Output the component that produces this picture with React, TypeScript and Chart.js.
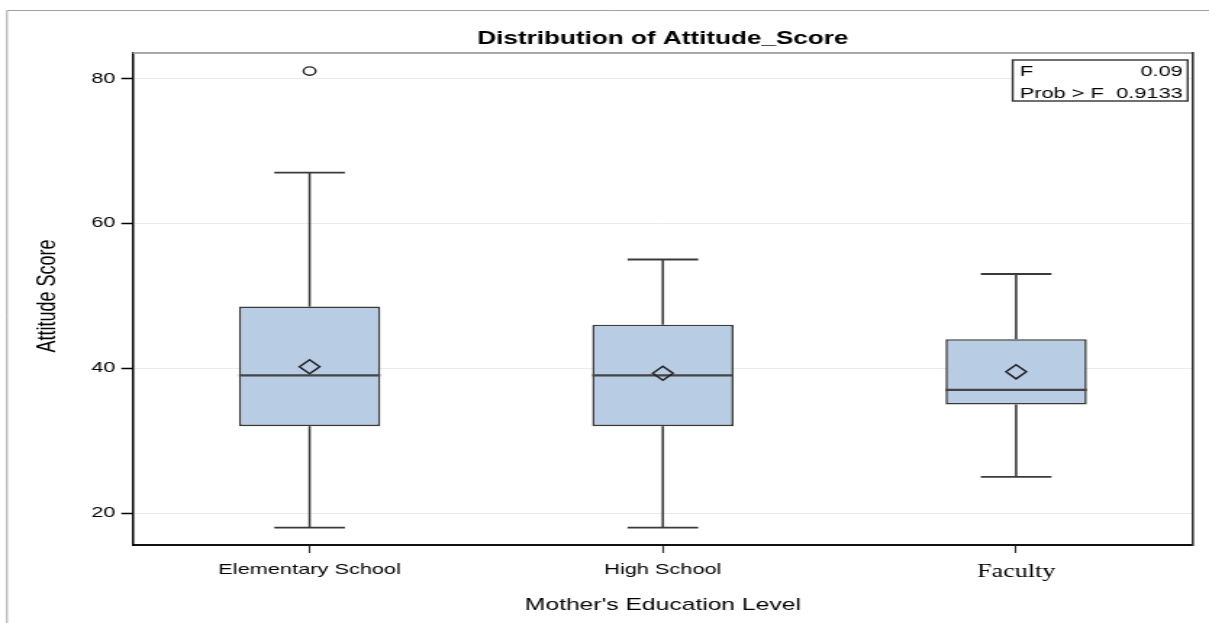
import { useEffect, useRef } from 'react';
import { Chart, registerables } from 'chart.js';

Chart.register(...registerables);

// ---- data ----
const CATEGORIES = ['Elementary School', 'High School', 'Faculty'];
const WHISKER_MIN = [18, 18, 25];
const Q1 = [32, 32, 35];
const MEDIAN = [39, 39, 37];
const Q3 = [48.5, 46, 44];
const WHISKER_MAX = [67, 55, 53];
const MEAN = [40.2, 39.3, 39.5];
const OUTLIERS: (number | null)[] = [81, null, null];
const Y_TICKS = [20, 40, 60, 80];
const Y_MIN = 15.6;
const Y_MAX = 83.5;
const STAT_LABELS = ['F', 'Prob > F'];
const STAT_VALUES = ['0.09', '0.9133'];
const TITLE = 'Distribution of Attitude_Score';
const X_TITLE = "Mother's Education Level";
const Y_TITLE = 'Attitude Score';

// canvas is drawn at a logical width and stretched horizontally like the reference
const OUT_W = 1209;
const OUT_H = 623;
const LOG_W = 834;

const SANS = '"Liberation Sans", Arial, sans-serif';
const SERIF = '"Liberation Serif", "Times New Roman", serif';

const decorPlugin = {
  id: 'decor',
  afterDatasetDraw(chart: any, args: any) {
    if (args.index !== 0) return;
    const ctx = chart.ctx;
    const y = chart.scales.y;
    const meta = chart.getDatasetMeta(0);
    ctx.save();
    ctx.strokeStyle = '#3a3a3a';
    const line = (x1: number, y1: number, x2: number, y2: number) => {
      ctx.beginPath();
      ctx.moveTo(x1, y1);
      ctx.lineTo(x2, y2);
      ctx.stroke();
    };
    meta.data.forEach((bar: any, i: number) => {
      const cx = bar.x;
      const w = bar.width;
      const yMax = y.getPixelForValue(WHISKER_MAX[i]);
      const yMin = y.getPixelForValue(WHISKER_MIN[i]);
      const yQ3 = y.getPixelForValue(Q3[i]);
      const yQ1 = y.getPixelForValue(Q1[i]);
      const yMed = y.getPixelForValue(MEDIAN[i]);
      ctx.lineWidth = 1.6;
      line(cx, yQ3, cx, yMax);
      line(cx, yQ1, cx, yMin);
      ctx.lineWidth = 1.8;
      line(cx - w / 4, yMax, cx + w / 4, yMax);
      line(cx - w / 4, yMin, cx + w / 4, yMin);
      ctx.strokeStyle = '#454545';
      ctx.lineWidth = 2.3;
      line(cx - w / 2, yMed, cx + w / 2, yMed);
      ctx.strokeStyle = '#3a3a3a';
    });
    ctx.restore();
  },
  afterDraw(chart: any) {
    const ctx = chart.ctx;
    const a = chart.chartArea;
    ctx.save();
    // outer frame
    ctx.strokeStyle = '#a0a0a0';
    ctx.lineWidth = 1;
    ctx.beginPath();
    ctx.moveTo(4.8, OUT_H);
    ctx.lineTo(4.8, 10.5);
    ctx.lineTo(LOG_W, 10.5);
    ctx.stroke();
    // plot frame top & right
    ctx.strokeStyle = '#a8a8a8';
    ctx.lineWidth = 2;
    ctx.beginPath();
    ctx.moveTo(a.left, a.top);
    ctx.lineTo(a.right, a.top);
    ctx.stroke();
    ctx.strokeStyle = '#333';
    ctx.lineWidth = 1.6;
    ctx.beginPath();
    ctx.moveTo(a.right, a.top - 1);
    ctx.lineTo(a.right, a.bottom + 1);
    ctx.stroke();

    // title
    const cx = (a.left + a.right) / 2;
    ctx.fillStyle = '#000';
    ctx.textAlign = 'center';
    ctx.textBaseline = 'alphabetic';
    ctx.font = `bold 18px ${SANS}`;
    ctx.fillText(TITLE, cx, 44);
    // x title
    ctx.font = `17px ${SANS}`;
    ctx.fillText(X_TITLE, cx, 610);
    // y title
    ctx.save();
    ctx.translate(33.5, 296);
    ctx.rotate(-Math.PI / 2);
    ctx.textBaseline = 'middle';
    ctx.font = `18px ${SANS}`;
    ctx.fillText(Y_TITLE, 0, 0);
    ctx.restore();

    // inset statistics box
    const bx1 = a.right - 124.2;
    const bx2 = a.right - 3.5;
    const by1 = a.top + 7;
    const by2 = a.top + 48;
    ctx.fillStyle = '#fff';
    ctx.fillRect(bx1, by1, bx2 - bx1, by2 - by1);
    ctx.strokeStyle = '#333';
    ctx.lineWidth = 1.4;
    ctx.strokeRect(bx1, by1, bx2 - bx1, by2 - by1);
    ctx.fillStyle = '#000';
    ctx.font = `15px ${SANS}`;
    STAT_LABELS.forEach((lab, i) => {
      const by = by1 + 15.5 + i * 22;
      ctx.textAlign = 'left';
      ctx.fillText(lab, bx1 + 4.8, by);
      ctx.textAlign = 'right';
      ctx.fillText(STAT_VALUES[i], bx2 - 3.4, by);
    });
    ctx.restore();
  },
};

export default function App() {
  const ref = useRef<HTMLCanvasElement | null>(null);

  useEffect(() => {
    if (!ref.current) return;
    const chart = new Chart(ref.current, {
      type: 'bar',
      data: {
        labels: CATEGORIES,
        datasets: [
          {
            type: 'bar',
            data: Q1.map((q, i) => [q, Q3[i]]) as any,
            backgroundColor: '#b8cce4',
            borderColor: '#3a3a3a',
            borderWidth: 1.6,
            borderSkipped: false,
            barPercentage: 0.4,
            categoryPercentage: 1,
            order: 3,
          } as any,
          {
            type: 'line',
            data: MEAN,
            showLine: false,
            pointStyle: 'rectRot',
            pointRadius: 7,
            pointBorderWidth: 1.5,
            pointBorderColor: '#222',
            pointBackgroundColor: 'rgba(0,0,0,0)',
            order: 2,
          } as any,
          {
            type: 'line',
            data: OUTLIERS,
            showLine: false,
            pointStyle: 'circle',
            pointRadius: 4.2,
            pointBorderWidth: 1.4,
            pointBorderColor: '#222',
            pointBackgroundColor: 'rgba(0,0,0,0)',
            order: 1,
          } as any,
        ],
      },
      options: {
        responsive: false,
        animation: false,
        devicePixelRatio: 1,
        layout: { padding: { left: 0, top: 53, right: 11.2, bottom: 0 } },
        plugins: {
          legend: { display: false },
          tooltip: { enabled: false },
          title: { display: false },
        },
        scales: {
          x: {
            type: 'category',
            offset: true,
            grid: {
              display: true,
              drawOnChartArea: false,
              offset: false,
              tickLength: 8,
              tickColor: '#333',
              tickWidth: 1.2,
            },
            border: { display: true, color: '#111', width: 2 },
            ticks: {
              autoSkip: false,
              maxRotation: 0,
              padding: 8,
              color: '#000',
              font: (c: any) =>
                c.index === 2
                  ? { family: SERIF, size: 18 }
                  : { family: SANS, size: 15 },
            },
            afterFit: (s: any) => {
              s.height = 78;
            },
          },
          y: {
            type: 'linear',
            min: Y_MIN,
            max: Y_MAX,
            grid: {
              color: '#ebebeb',
              lineWidth: 1,
              tickColor: '#000',
              tickLength: 8,
              tickWidth: 1.5,
            },
            border: { display: true, color: '#000', width: 1.5 },
            ticks: {
              padding: 4,
              color: '#000',
              font: { family: SANS, size: 15 },
            },
            afterBuildTicks: (s: any) => {
              s.ticks = Y_TICKS.map((v) => ({ value: v }));
            },
            afterFit: (s: any) => {
              s.width = 91.7;
            },
          },
        },
      } as any,
      plugins: [decorPlugin],
    });
    return () => chart.destroy();
  }, []);

  return (
    <div style={{ position: 'fixed', left: 0, top: 0, width: OUT_W, height: OUT_H, background: '#fff' }}>
      <canvas
        ref={ref}
        width={LOG_W}
        height={OUT_H}
        style={{ width: `${OUT_W}px`, height: `${OUT_H}px`, display: 'block' }}
      />
    </div>
  );
}
